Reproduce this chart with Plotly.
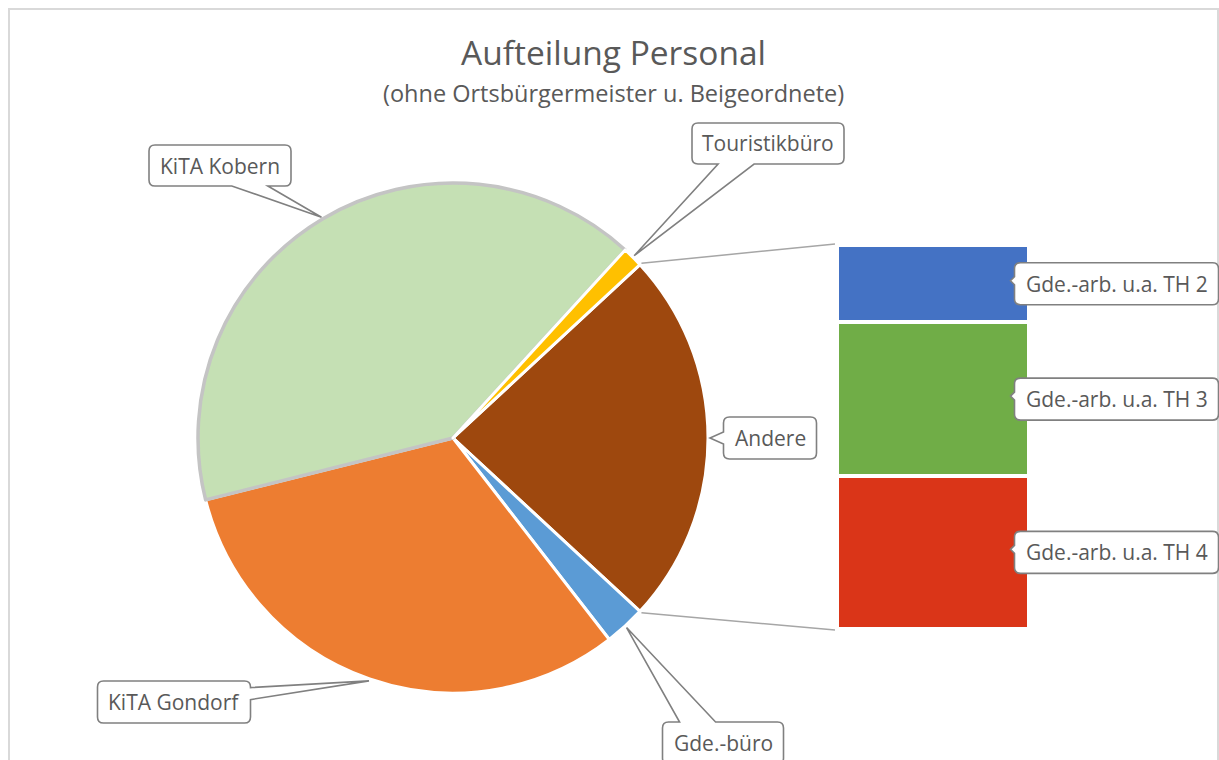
import math
import plotly.graph_objects as go

W, H = 1219, 760

# ---------------- data ----------------
pie_other_labels = ["Gde.-büro", "KiTA Gondorf", "KiTA Kobern", "Touristikbüro"]
pie_other_values = [2.6, 31.6, 40.7, 1.3]
group_label = "Andere"
bar_labels = ["Gde.-arb. u.a. TH 2", "Gde.-arb. u.a. TH 3", "Gde.-arb. u.a. TH 4"]
bar_values = [4.8, 9.5, 9.5]

title_text = "Aufteilung Personal"
subtitle_text = "(ohne Ortsbürgermeister u. Beigeordnete)"

# ---------------- styles ----------------
pie_colors = ["#9E480E", "#5B9BD5", "#ED7D31", "#C5E0B4", "#FFC000"]
pie_line_colors = ["white", "white", "white", "#C4C4C4", "white"]
pie_line_widths = [3, 3, 3, 3.5, 3]
bar_colors = ["#4472C4", "#70AD47", "#DA3518"]
TEXT = "#595959"
FONT = "Open Sans"
LABEL_SIZE = 21

andere = sum(bar_values)
pie_labels = [group_label] + pie_other_labels
pie_values = [andere] + pie_other_values
total = sum(pie_values)


def px(x):
    """screen pixel x -> paper"""
    return x / W


def py(y):
    """screen pixel y -> paper"""
    return 1 - y / H


# pie geometry (screen pixels)
CX, CY, R = 453, 438, 255
rotation = 90 - 180 * andere / total


def pie_point(theta_deg, r):
    t = math.radians(theta_deg)
    return CX + r * math.sin(t), CY - r * math.cos(t)


starts, ends = [], []
cum = 0
for v in pie_values:
    starts.append(rotation + 360 * cum / total)
    cum += v
    ends.append(rotation + 360 * cum / total)
mids = [(s + e) / 2 for s, e in zip(starts, ends)]

# bar geometry (screen pixels, visible coloured area)
BX0, BX1, BY0, BY1 = 839, 1027, 247, 627
LW = 4

fig = go.Figure()

fig.add_trace(go.Pie(
    labels=pie_labels, values=pie_values, sort=False, direction="clockwise",
    rotation=rotation, textinfo="none", hoverinfo="label+value",
    marker=dict(colors=pie_colors, line=dict(color=pie_line_colors, width=pie_line_widths)),
    domain=dict(x=[px(CX - R), px(CX + R)], y=[py(CY + R), py(CY - R)]),
    showlegend=False,
))

for lab, val, col in reversed(list(zip(bar_labels, bar_values, bar_colors))):
    fig.add_trace(go.Bar(
        x=[group_label], y=[val], name=lab, marker=dict(color=col, line=dict(color="white", width=LW)),
        showlegend=False, xaxis="x", yaxis="y",
    ))

shapes = []
annotations = []

# chart border
shapes.append(dict(type="rect", xref="paper", yref="paper", x0=px(9), x1=px(1218), y0=py(775), y1=py(9),
                   line=dict(color="#D9D9D9", width=2), fillcolor="rgba(0,0,0,0)", layer="below"))

# connector lines pie -> bar
bar_top_px = BY0 - LW / 2
bar_bot_px = BY1 + LW / 2
p_start = pie_point(starts[0], R + 2)
p_end = pie_point(ends[0], R + 2)
for (sx, sy), ty in [(p_start, bar_top_px - 1), (p_end, bar_bot_px + 1)]:
    shapes.append(dict(type="line", xref="paper", yref="paper", x0=px(sx), y0=py(sy),
                       x1=px(BX0 - 4), y1=py(ty), line=dict(color="#A6A6A6", width=1.5), layer="above"))


def callout(text, bx, by, hw, hh, hx, hy, bw=None, rr=6):
    dx, dy = hx - bx, hy - by
    if abs(dy) / hh > abs(dx) / hw:
        side = "top" if dy < 0 else "bottom"
        bc = bx + math.copysign(min(abs(dx), 0.42 * hw), dx)
        if bw is None:
            bw = 36
    else:
        side = "left" if dx < 0 else "right"
        bc = by + math.copysign(min(abs(dy), 0.4 * hh), dy)
        if bw is None:
            bw = 12
    x0, x1, y0, y1 = bx - hw, bx + hw, by - hh, by + hh
    pts = []

    def P(cmd, *xy):
        coords = []
        for i in range(0, len(xy), 2):
            coords.append(f"{px(xy[i]):.6f},{py(xy[i + 1]):.6f}")
        pts.append(cmd + " ".join(coords))

    P("M", x0 + rr, y0)
    if side == "top":
        P("L", bc - bw / 2, y0); P("L", hx, hy); P("L", bc + bw / 2, y0)
    P("L", x1 - rr, y0)
    P("Q", x1, y0, x1, y0 + rr)
    if side == "right":
        P("L", x1, bc - bw / 2); P("L", hx, hy); P("L", x1, bc + bw / 2)
    P("L", x1, y1 - rr)
    P("Q", x1, y1, x1 - rr, y1)
    if side == "bottom":
        P("L", bc + bw / 2, y1); P("L", hx, hy); P("L", bc - bw / 2, y1)
    P("L", x0 + rr, y1)
    P("Q", x0, y1, x0, y1 - rr)
    if side == "left":
        P("L", x0, bc + bw / 2); P("L", hx, hy); P("L", x0, bc - bw / 2)
    P("L", x0, y0 + rr)
    P("Q", x0, y0, x0 + rr, y0)
    path = " ".join(pts) + " Z"
    shapes.append(dict(type="path", xref="paper", yref="paper", path=path, fillcolor="white",
                       line=dict(color="#808080", width=1.6), layer="above"))
    annotations.append(dict(text=text, x=px(bx), y=py(by), xref="paper", yref="paper",
                            xanchor="center", yanchor="middle", showarrow=False,
                            font=dict(family=FONT, size=LABEL_SIZE, color=TEXT)))


# pie label boxes: (center x, center y, half width, half height) in screen pixels
pie_boxes = {
    "Andere": (770, 438, 46.5, 21),
    "Gde.-büro": (723, 743, 60.5, 21),
    "KiTA Gondorf": (174, 702, 76.5, 21),
    "KiTA Kobern": (220, 165.5, 71, 20.5),
    "Touristikbüro": (768, 143.5, 76, 20.5),
}
for lab, m in zip(pie_labels, mids):
    hx, hy = pie_point(m, R + 2)
    bx, by, hw, hh = pie_boxes[lab]
    callout(lab, bx, by, hw, hh, hx, hy)

# bar label boxes
bar_box_cx, bar_box_hw, bar_box_hh = 1116.5, 102, 21
bar_h_px = bar_bot_px - bar_top_px
cum = 0
for lab, val in zip(bar_labels, bar_values):
    mid_frac = (cum + val / 2) / andere
    cum += val
    by = bar_top_px + mid_frac * bar_h_px
    callout(lab, bar_box_cx, by, bar_box_hw, bar_box_hh, bar_box_cx - bar_box_hw - 4, by - 3, bw=8)

# titles
annotations.append(dict(text=title_text, x=px(613), y=py(52), xref="paper", yref="paper",
                        xanchor="center", yanchor="middle", showarrow=False,
                        font=dict(family=FONT, size=33.5, color=TEXT)))
annotations.append(dict(text=subtitle_text, x=px(613), y=py(93), xref="paper", yref="paper",
                        xanchor="center", yanchor="middle", showarrow=False,
                        font=dict(family=FONT, size=23.5, color=TEXT)))

fig.update_layout(
    width=W, height=H, margin=dict(l=0, r=0, t=0, b=0, pad=0),
    paper_bgcolor="white", plot_bgcolor="rgba(0,0,0,0)",
    barmode="stack", bargap=0,
    xaxis=dict(domain=[px(BX0 - LW / 2), px(BX1 + LW / 2)], range=[-0.5, 0.5], visible=False, fixedrange=True),
    yaxis=dict(domain=[py(bar_bot_px), py(bar_top_px)], range=[0, andere], visible=False, fixedrange=True),
    shapes=shapes, annotations=annotations,
    font=dict(family=FONT, color=TEXT),
)

fig.write_html(
    "out.html",
    config={"displayModeBar": False},
    post_script="document.body.style.margin='0px';document.body.style.overflow='hidden';",
)
